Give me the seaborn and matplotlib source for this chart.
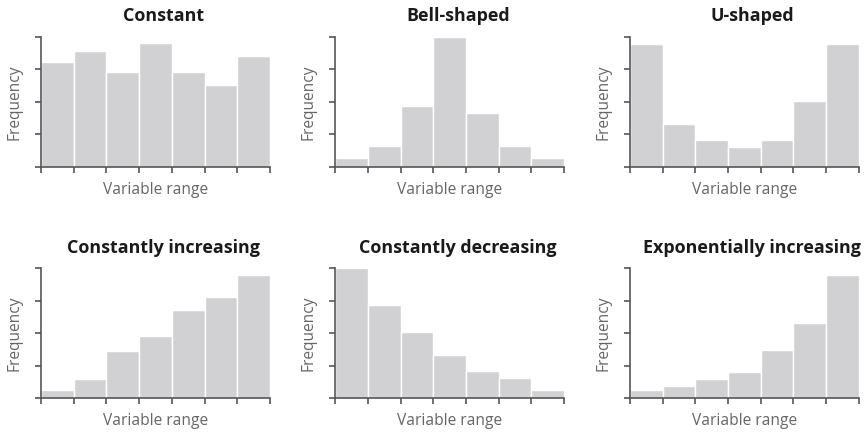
import numpy as np
import pandas as pd
import matplotlib.pyplot as plt
import seaborn as sns

# alturas das barras (unidades de tick)
titles = ['Constant', 'Bell-shaped', 'U-shaped',
          'Constantly increasing', 'Constantly decreasing', 'Exponentially increasing']
constant = [3.22, 3.57, 2.93, 3.80, 2.93, 2.52, 3.42]
bell = [0.29, 0.66, 1.88, 4.00, 1.66, 0.66, 0.29]
u_shaped = [3.77, 1.32, 0.83, 0.62, 0.83, 2.03, 3.77]
increasing = [0.25, 0.59, 1.44, 1.91, 2.70, 3.12, 3.80]
decreasing = [4.00, 2.85, 2.02, 1.32, 0.84, 0.62, 0.25]
exponential = [0.25, 0.38, 0.59, 0.81, 1.48, 2.31, 3.80]
series = [constant, bell, u_shaped, increasing, decreasing, exponential]

sns.set_style('white')
plt.rcParams['font.family'] = ['Open Sans', 'DejaVu Sans']

fig = plt.figure(figsize=(8.67, 4.33), dpi=100)

lefts = [0.0473, 0.3867, 0.7266]
bottoms = [0.6143, 0.0801]
bar_color = '#d1d1d3'
axis_color = '#555555'

for i, (title, values) in enumerate(zip(titles, series)):
    ax = fig.add_axes([lefts[i % 3], bottoms[i // 3], 0.264, 0.301])
    n = len(values)
    df = pd.DataFrame({'bin': np.arange(n) + 0.5, 'freq': values})
    sns.histplot(data=df, x='bin', weights='freq', bins=n, binrange=(0, n), ax=ax,
                 color=bar_color, alpha=1, edgecolor='white', linewidth=1)
    ax.set_xlim(0, n)
    ax.set_ylim(0, 4)
    ax.set_xticks(np.arange(n + 1))
    ax.set_yticks(np.arange(5))
    ax.set_xticklabels([])
    ax.set_yticklabels([])
    ax.tick_params(axis='both', direction='out', length=4, width=1.2,
                   color=axis_color, bottom=True, left=True)
    for side in ['top', 'right']:
        ax.spines[side].set_visible(False)
    for side in ['left', 'bottom']:
        ax.spines[side].set_color(axis_color)
        ax.spines[side].set_linewidth(1.2)
    # titulo levemente deslocado para a direita, como no original
    ax.set_title(title, fontsize=12.9, fontweight='bold', color='#1a1a1a', pad=11, x=0.535)
    ax.set_xlabel('Variable range', fontsize=11.2, color='#666666', labelpad=3)
    ax.set_ylabel('Frequency', fontsize=11.2, color='#666666', labelpad=6)

plt.savefig('out.png', dpi=100)
